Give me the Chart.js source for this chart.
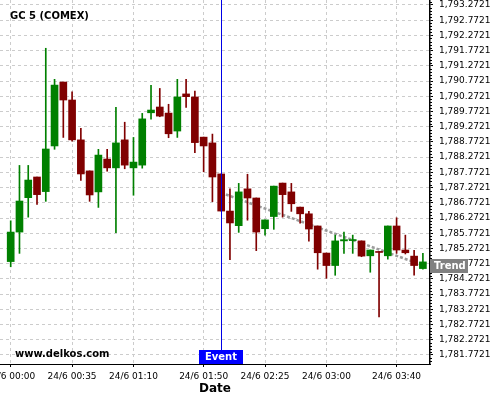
<!DOCTYPE html>
<html>
<head>
<meta charset="utf-8">
<script src="https://cdn.jsdelivr.net/npm/chart.js@4/dist/chart.umd.min.js"></script>
<style>
  html, body { margin: 0; padding: 0; background: #fff; }
  #wrap { position: relative; width: 500px; height: 400px; }
</style>
</head>
<body>
<div id="wrap"><canvas id="chart" width="500" height="400"></canvas></div>
<script>
// 5 minute bars, 24/6
var times = ["00:00","00:05","00:10","00:15","00:20","00:25","00:30","00:35","00:40","00:45","00:50","00:55",
             "01:00","01:05","01:10","01:15","01:20","01:25","01:30","01:35","01:40","01:45","01:50","01:55",
             "02:00","02:05","02:10","02:15","02:20","02:25","02:30","02:35","02:40","02:45","02:50","02:55",
             "03:00","03:05","03:10","03:15","03:20","03:25","03:30","03:35","03:40","03:45","03:50","03:55"];
var open  = [1784.84,1785.81,1786.94,1787.62,1787.14,1788.64,1790.74,1790.15,1788.84,1787.82,1787.13,1788.21,
             1787.92,1788.84,1787.92,1788.01,1789.73,1789.92,1789.72,1789.13,1790.35,1790.25,1788.93,1788.74,
             1787.72,1786.50,1786.02,1787.23,1786.93,1785.92,1786.32,1787.42,1787.13,1786.63,1786.41,1786.01,
             1785.12,1784.71,1785.52,1785.53,1785.52,1785.03,1785.17,1785.03,1786.01,1785.22,1785.02,1784.61];
var high  = [1786.18,1788.00,1788.00,1787.62,1791.85,1790.83,1790.74,1790.42,1789.22,1787.82,1788.53,1788.53,
             1789.91,1789.42,1788.92,1789.71,1790.63,1790.53,1790.01,1790.83,1790.83,1790.44,1788.93,1789.03,
             1787.72,1787.23,1787.41,1787.71,1786.93,1786.21,1787.32,1787.42,1787.41,1786.63,1786.49,1786.01,
             1785.12,1785.71,1785.81,1785.71,1785.52,1785.22,1785.17,1786.01,1786.28,1785.71,1785.21,1785.11];
var low   = [1784.67,1785.11,1786.30,1786.72,1786.82,1788.53,1788.92,1788.80,1787.51,1786.82,1786.62,1787.81,
             1785.79,1787.89,1787.02,1787.91,1789.52,1789.60,1788.91,1788.92,1789.91,1788.42,1787.79,1786.81,
             1786.50,1784.90,1785.80,1786.20,1785.20,1785.71,1785.90,1786.30,1786.49,1786.10,1785.51,1784.59,
             1784.29,1784.39,1785.11,1785.11,1785.00,1784.49,1783.02,1784.92,1785.11,1785.09,1784.39,1784.59];
var close = [1785.81,1786.83,1787.52,1787.04,1788.54,1790.64,1790.15,1788.84,1787.72,1787.03,1788.34,1787.92,
             1788.74,1788.01,1788.11,1789.53,1789.82,1789.62,1789.04,1790.25,1790.26,1788.75,1788.64,1787.62,
             1786.50,1786.11,1787.13,1786.93,1785.81,1786.21,1787.32,1787.04,1786.74,1786.41,1785.91,1785.13,
             1784.71,1785.52,1785.56,1785.56,1785.02,1785.22,1785.14,1786.01,1785.22,1785.13,1784.71,1784.83];

var tickTimes = ["00:00","00:35","01:10","01:50","02:25","03:00","03:40"];
var priceTicks = [1781.7721,1782.2721,1782.7721,1783.2721,1783.7721,1784.2721,1784.7721,1785.2721,
                  1785.7721,1786.2721,1786.7721,1787.2721,1787.7721,1788.2721,1788.7721,1789.2721,
                  1789.7721,1790.2721,1790.7721,1791.2721,1791.7721,1792.2721,1792.7721,1793.2721];

var eventTime = "02:00";
var trendTimes = ["02:00","03:55"];
var trendValues = [1787.10, 1784.72];

var upColor = '#008000';
var downColor = '#800000';

var bodies = [], wicks = [], colors = [];
for (var i = 0; i < times.length; i++) {
    bodies.push({x: i, y: [open[i], close[i]]});
    wicks.push({x: i, y: [low[i], high[i]]});
    colors.push(close[i] >= open[i] ? upColor : downColor);
}
var trend = trendTimes.map(function (t, k) { return {x: times.indexOf(t), y: trendValues[k]}; });

var overlay = {
    id: 'overlay',
    afterDatasetsDraw: function (chart) {
        var ctx = chart.ctx, area = chart.chartArea;
        var ex = Math.round(chart.scales.x.getPixelForValue(times.indexOf(eventTime))) + 0.5;
        ctx.save();
        ctx.strokeStyle = '#0000e6';
        ctx.lineWidth = 1;
        ctx.beginPath();
        ctx.moveTo(ex, area.top);
        ctx.lineTo(ex, area.bottom);
        ctx.stroke();
        ctx.restore();
    },
    afterDraw: function (chart) {
        var ctx = chart.ctx, area = chart.chartArea;
        var xs = chart.scales.x, ys = chart.scales.y;
        ctx.save();

        // minor ticks on price axis
        ctx.strokeStyle = '#000';
        ctx.lineWidth = 1;
        ctx.beginPath();
        for (var k = 0; k < priceTicks.length; k++) {
            for (var m = -4; m < 5; m++) {
                if (m == 0) continue;
                var yy = ys.getPixelForValue(priceTicks[k] + m * 0.1);
                if (yy < area.top || yy > area.bottom) continue;
                yy = Math.round(yy) + 0.5;
                ctx.moveTo(area.right, yy);
                ctx.lineTo(area.right + 2, yy);
            }
        }
        ctx.stroke();

        ctx.textBaseline = 'middle';
        ctx.font = 'bold 10px "DejaVu Sans"';
        ctx.fillStyle = '#000';
        ctx.textAlign = 'left';
        ctx.fillText('GC 5 (COMEX)', 10, 16);
        ctx.fillText('www.delkos.com', 15, 354);

        // event label
        var ex = xs.getPixelForValue(times.indexOf(eventTime));
        ctx.fillStyle = '#0000ff';
        ctx.fillRect(Math.round(ex) - 22, area.bottom - 14, 44, 14);
        ctx.fillStyle = '#fff';
        ctx.textAlign = 'center';
        ctx.fillText('Event', Math.round(ex), area.bottom - 6.5);

        // trend label
        var ty = ys.getPixelForValue(trendValues[trendValues.length - 1]);
        ctx.fillStyle = '#808080';
        ctx.fillRect(area.right, Math.round(ty) - 6, 38, 14);
        ctx.fillStyle = '#fff';
        ctx.textAlign = 'left';
        ctx.fillText('Trend', area.right + 4, Math.round(ty) + 1.5);
        ctx.restore();
    }
};

Chart.defaults.font.family = '"DejaVu Sans"';
Chart.defaults.color = '#000';

var chart = new Chart(document.getElementById('chart').getContext('2d'), {
    type: 'bar',
    data: {
        datasets: [{
            label: 'body',
            data: bodies,
            backgroundColor: colors,
            barThickness: 7,
            minBarLength: 1,
            grouped: false
        }, {
            label: 'wick',
            data: wicks,
            backgroundColor: colors,
            barThickness: 1,
            grouped: false
        }, {
            type: 'line',
            label: 'trend',
            data: trend,
            borderColor: 'rgba(140,140,140,0.85)',
            borderWidth: 2.5,
            borderDash: [3, 2],
            pointRadius: 0,
            fill: false
        }]
    },
    options: {
        responsive: false,
        animation: false,
        layout: { padding: 0 },
        plugins: {
            legend: { display: false },
            tooltip: { enabled: false }
        },
        scales: {
            x: {
                type: 'linear',
                offset: false,
                min: -1.22,
                max: 47.81,
                afterBuildTicks: function (scale) {
                    scale.ticks = tickTimes.map(function (t) { return {value: times.indexOf(t)}; });
                },
                afterFit: function (scale) {
                    scale.height = 36;
                    scale.paddingLeft = 0;
                    scale.paddingRight = 0;
                },
                ticks: {
                    autoSkip: false,
                    maxRotation: 0,
                    padding: 4,
                    font: { size: 9 },
                    callback: function (v) { return '24/6 ' + times[v]; }
                },
                grid: { color: '#cccccc', tickColor: '#000', tickLength: 3, offset: false },
                border: { color: '#000', width: 1, dash: [3, 3] },
                title: {
                    display: true,
                    text: 'Date',
                    font: { size: 12, weight: 'bold' },
                    padding: { top: 0, bottom: 4 }
                }
            },
            y: {
                position: 'right',
                min: 1781.4744,
                max: 1793.4364,
                afterBuildTicks: function (scale) {
                    scale.ticks = priceTicks.map(function (v) { return {value: v}; });
                },
                afterFit: function (scale) {
                    scale.width = 70;
                    scale.paddingTop = 0;
                    scale.paddingBottom = 0;
                },
                ticks: {
                    autoSkip: false,
                    padding: 6,
                    font: { size: 9 },
                    callback: function (v) {
                        return v.toLocaleString('en-US', {minimumFractionDigits: 4, maximumFractionDigits: 4});
                    }
                },
                grid: { color: '#cccccc', tickColor: '#000', tickLength: 3 },
                border: { color: '#000', width: 1.5, dash: [3, 3] }
            }
        }
    },
    plugins: [overlay]
});
</script>
</body>
</html>
